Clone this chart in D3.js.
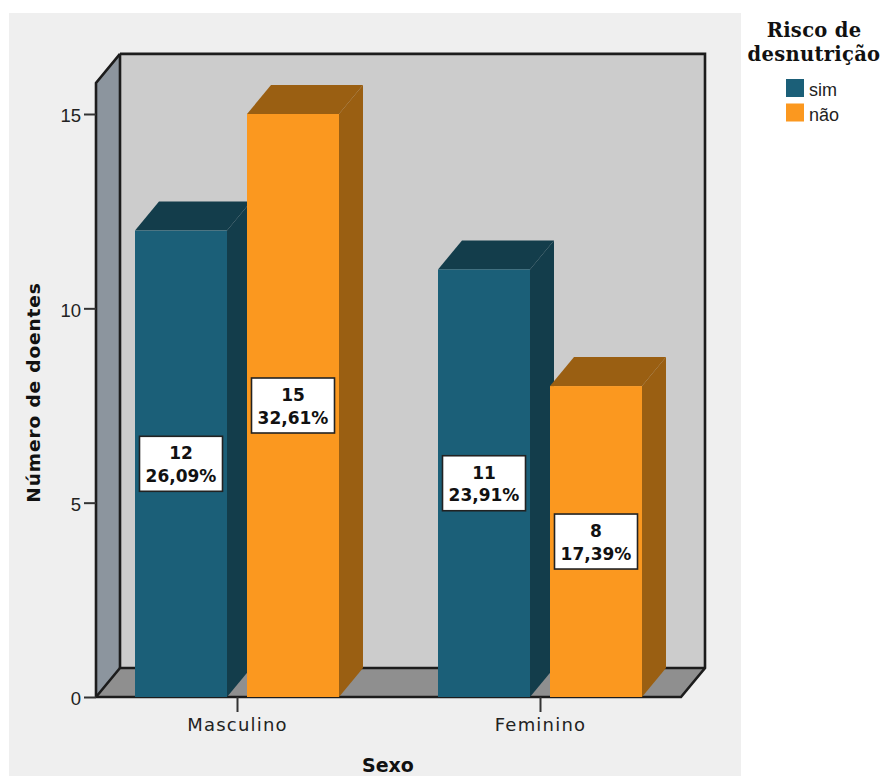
<!DOCTYPE html>
<html>
<head>
<meta charset="utf-8">
<script src="https://cdn.jsdelivr.net/npm/d3@7/dist/d3.min.js"></script>
<style>
html,body{margin:0;padding:0;background:#fff;overflow:hidden}
svg{display:block}
</style>
</head>
<body>
<svg id="chart" width="882" height="776"></svg>
<script>
const sexes = ["Masculino", "Feminino"];
const risks = ["sim", "não"];
const simCounts = [12, 11];
const naoCounts = [15, 8];
const simPercent = ["26,09%", "23,91%"];
const naoPercent = ["32,61%", "17,39%"];
const yTicks = [0, 5, 10, 15];

const riskColors = {
  "sim": {front: "#1b5f78", dark: "#133d4b"},
  "não": {front: "#fb981f", dark: "#9a5f12"}
};

// Oblique projection used for the box and the bar depth
const depthX = 24, depthY = -29;

const svg = d3.select("#chart");
const y = d3.scaleLinear().domain([0, 15]).range([697, 114]);
const yMax = 15.8;
const xGroup = d3.scalePoint().domain(sexes).range([237, 540]);
const xRisk = d3.scaleBand().domain(risks).range([-102, 102]).paddingInner(20 / 112);
const boxLeft = 96, boxRight = 681;

svg.append("rect").attr("x", 9).attr("y", 13).attr("width", 732).attr("height", 763).attr("fill", "#efefef");

const poly = pts => pts.map(p => p.join(",")).join(" ");
const floorY = y(0), topY = y(yMax);

// Chart box: back wall, left wall, floor
svg.append("polygon")
  .attr("points", poly([[boxLeft + depthX, topY + depthY], [boxRight + depthX, topY + depthY], [boxRight + depthX, floorY + depthY], [boxLeft + depthX, floorY + depthY]]))
  .attr("fill", "#cccccc");
svg.append("polygon")
  .attr("points", poly([[boxLeft, topY], [boxLeft + depthX, topY + depthY], [boxLeft + depthX, floorY + depthY], [boxLeft, floorY]]))
  .attr("fill", "#8c959e");
svg.append("polygon")
  .attr("points", poly([[boxLeft, floorY], [boxLeft + depthX, floorY + depthY], [boxRight + depthX, floorY + depthY], [boxRight, floorY]]))
  .attr("fill", "#8f8f8f");

const frame = [
  [[boxLeft, floorY], [boxLeft, topY], [boxLeft + depthX, topY + depthY]],
  [[boxLeft + depthX, topY + depthY], [boxLeft + depthX, floorY + depthY]],
  [[boxLeft, floorY], [boxLeft + depthX, floorY + depthY], [boxRight + depthX, floorY + depthY]],
  [[boxLeft + depthX, topY + depthY], [boxRight + depthX, topY + depthY], [boxRight + depthX, floorY + depthY], [boxRight, floorY], [boxLeft, floorY]]
];
svg.append("g").selectAll("path").data(frame).join("path")
  .attr("d", d3.line())
  .attr("fill", "none").attr("stroke", "#1c1c1c").attr("stroke-width", 2.6);

// Axes
const axisFont = "'Liberation Sans', sans-serif";
const yAxis = svg.append("g").attr("transform", `translate(${boxLeft},0)`)
  .call(d3.axisLeft(y).tickValues(yTicks).tickFormat(d3.format("d")).tickSize(12).tickPadding(3));
yAxis.select(".domain").remove();
yAxis.selectAll("line").attr("stroke", "#333").attr("stroke-width", 2);
yAxis.selectAll("text").attr("font-family", axisFont).attr("font-size", 18.5).attr("fill", "#222").attr("dy", "0.42em");

const xAxis = svg.append("g").attr("transform", `translate(0,${floorY})`)
  .call(d3.axisBottom(xGroup).tickSize(15).tickPadding(6));
xAxis.select(".domain").remove();
xAxis.selectAll("line").attr("stroke", "#333").attr("stroke-width", 2);
xAxis.selectAll("text").attr("font-family", "'DejaVu Sans', sans-serif").attr("font-size", 18)
  .attr("letter-spacing", 1.2).attr("fill", "#222");

// Bars, drawn left to right so each front face covers its neighbour's side
const rows = sexes.flatMap((sex, i) => [
  {sex, risk: "sim", value: simCounts[i], pct: simPercent[i]},
  {sex, risk: "não", value: naoCounts[i], pct: naoPercent[i]}
]);
const bars = svg.append("g").selectAll("g").data(rows).join("g");
const bx0 = d => xGroup(d.sex) + xRisk(d.risk);
const bx1 = d => bx0(d) + xRisk.bandwidth();
bars.append("polygon").attr("fill", d => riskColors[d.risk].dark)
  .attr("points", d => poly([[bx0(d), y(d.value)], [bx0(d) + depthX, y(d.value) + depthY], [bx1(d) + depthX, y(d.value) + depthY], [bx1(d), y(d.value)]]));
bars.append("polygon").attr("fill", d => riskColors[d.risk].dark)
  .attr("points", d => poly([[bx1(d), y(d.value)], [bx1(d) + depthX, y(d.value) + depthY], [bx1(d) + depthX, y(0) + depthY], [bx1(d), y(0)]]));
bars.append("rect").attr("fill", d => riskColors[d.risk].front)
  .attr("x", bx0).attr("y", d => y(d.value)).attr("width", xRisk.bandwidth()).attr("height", d => y(0) - y(d.value));

// Value labels centred on each bar's front face
const labelFont = "'DejaVu Sans', sans-serif";
const labels = svg.append("g").selectAll("g").data(rows).join("g")
  .attr("transform", d => `translate(${(bx0(d) + bx1(d)) / 2},${y(d.value / 2)})`);
labels.append("rect").attr("x", -41.5).attr("y", -27.5).attr("width", 83).attr("height", 55)
  .attr("fill", "#fff").attr("stroke", "#222").attr("stroke-width", 1.6);
labels.append("text").attr("text-anchor", "middle").attr("y", -4.5)
  .attr("font-family", labelFont).attr("font-weight", 700).attr("font-size", 17).attr("fill", "#111")
  .text(d => d.value);
labels.append("text").attr("text-anchor", "middle").attr("y", 18)
  .attr("font-family", labelFont).attr("font-weight", 700).attr("font-size", 17).attr("fill", "#111")
  .text(d => d.pct);

// Axis titles
svg.append("text").attr("x", 388).attr("y", 772).attr("text-anchor", "middle")
  .attr("font-family", labelFont).attr("font-weight", 700).attr("font-size", 19).attr("fill", "#111").text("Sexo");
svg.append("text").attr("transform", "translate(40,392.5) rotate(-90)").attr("text-anchor", "middle")
  .attr("font-family", labelFont).attr("font-weight", 700).attr("font-size", 18.5).attr("letter-spacing", 0.9).attr("fill", "#111").text("Número de doentes");

// Legend
const legendTitle = ["Risco de", "desnutrição"];
svg.append("g").selectAll("text").data(legendTitle).join("text")
  .attr("x", 814).attr("y", (d, i) => 37 + i * 24).attr("text-anchor", "middle")
  .attr("font-family", "'DejaVu Serif', serif").attr("font-weight", 700).attr("font-size", 19.5).attr("letter-spacing", 0.3).attr("fill", "#111").text(d => d);
const legend = svg.append("g").selectAll("g").data(risks).join("g")
  .attr("transform", (d, i) => `translate(786,${79 + i * 24.5})`);
legend.append("rect").attr("width", 18).attr("height", 18).attr("fill", d => riskColors[d].front);
legend.append("text").attr("x", 23).attr("y", 17).attr("font-family", axisFont).attr("font-size", 18).attr("fill", "#222").text(d => d);
</script>
</body>
</html>
